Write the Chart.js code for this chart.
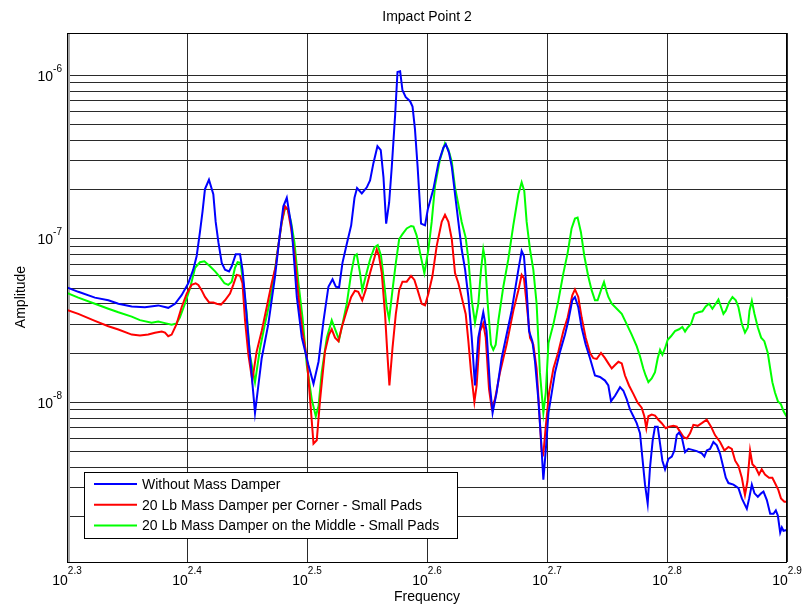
<!DOCTYPE html>
<html>
<head>
<meta charset="utf-8">
<script src="https://cdn.jsdelivr.net/npm/chart.js@4.4.0/dist/chart.umd.min.js"></script>
<style>
  html, body { margin: 0; padding: 0; background: #fff; }
  #wrap { width: 803px; height: 608px; }
</style>
</head>
<body>
<div id="wrap"><canvas id="c" width="803" height="608"></canvas></div>
<script>
// series names, as in the legend
const seriesNames = [
  "Without Mass Damper",
  "20 Lb Mass Damper per Corner - Small Pads",
  "20 Lb Mass Damper on the Middle - Small Pads"
];
const seriesColors = ["#0000ff", "#ff0000", "#00ff00"];

// axis ticks (exponents of 10)
const xTickExp = [2.3, 2.4, 2.5, 2.6, 2.7, 2.8, 2.9];
const yTickExp = [-8, -7, -6];
const yMin = 1.05e-9, yMax = 1.8e-6;

// Without Mass Damper (Hz, amplitude)
const freqBlue = [199.5,203.9,210.5,216.0,220.2,225.9,231.7,237.7,242.3,245.5,248.6,251.8,254.2,255.9,257.5,258.8,260.0,262.0,264.2,265.4,266.8,268.5,270.2,272.3,273.7,275.8,278.1,279.4,280.8,282.6,286.2,289.9,293.6,297.4,300.3,302.2,304.2,307.1,310.1,313.1,317.1,320.2,323.3,326.4,329.5,332.1,334.2,336.3,338.5,341.3,344.2,346.4,348.1,351.3,354.7,356.9,359.2,362.0,364.3,366.2,368.1,370.2,372.1,374.5,376.2,378.1,379.8,382.2,385.4,387.2,389.0,391.0,393.6,396.6,398.7,403.0,406.9,410.8,412.7,415.3,417.5,420.1,422.8,425.5,428.3,431.0,433.8,436.5,439.3,443.5,446.3,449.2,451.5,455.0,459.4,468.3,474.4,477.4,479.5,482.0,484.2,487.3,489.8,492.9,495.5,497.7,500.0,502.6,505.8,509.0,513.9,518.8,522.1,526.1,528.8,532.2,535.6,539.8,544.3,549.5,554.8,560.2,563.8,566.7,571.1,576.6,580.3,584.0,587.7,591.5,595.3,599.1,601.8,604.9,608.0,610.7,613.9,616.6,619.8,622.6,625.4,628.6,632.7,636.8,640.0,642.9,645.7,649.0,653.2,657.4,662.5,668.0,674.5,677.9,681.0,685.3,689.7,694.2,698.6,703.1,706.3,709.9,716.8,723.7,728.4,735.4,738.7,742.5,746.3,751.1,755.9,759.3,764.2,769.1,774.0,777.5,780.5,784.0,786.5,789.0,794.1];
const ampBlue = [5.01e-8,4.71e-8,4.34e-8,4.18e-8,3.98e-8,3.83e-8,3.79e-8,3.89e-8,3.76e-8,3.98e-8,4.49e-8,5.31e-8,6.43e-8,7.80e-8,1.09e-7,1.46e-7,2.00e-7,2.28e-7,1.86e-7,1.26e-7,9.44e-8,7.08e-8,6.43e-8,6.28e-8,6.75e-8,7.98e-8,7.98e-8,6.43e-8,4.38e-8,2.47e-8,8.57e-9,1.85e-8,2.99e-8,5.84e-8,1.09e-7,1.57e-7,1.77e-7,1.15e-7,4.38e-8,2.47e-8,1.68e-8,1.29e-8,1.76e-8,3.13e-8,5.06e-8,5.62e-8,5.06e-8,5.01e-8,7.08e-8,9.22e-8,1.20e-7,1.77e-7,2.03e-7,1.88e-7,2.05e-7,2.26e-7,2.88e-7,3.66e-7,3.46e-7,2.37e-7,1.23e-7,1.65e-7,2.74e-7,5.68e-7,1.04e-6,1.05e-6,8.04e-7,7.30e-7,6.89e-7,6.40e-7,4.67e-7,2.74e-7,1.23e-7,1.20e-7,1.50e-7,2.00e-7,2.88e-7,3.58e-7,3.76e-7,3.33e-7,2.74e-7,1.86e-7,1.26e-7,8.57e-8,6.43e-8,4.38e-8,2.47e-8,1.26e-8,2.47e-8,3.53e-8,2.71e-8,1.26e-8,8.57e-9,1.14e-8,1.85e-8,3.61e-8,6.43e-8,8.37e-8,7.80e-8,4.82e-8,2.71e-8,2.35e-8,1.76e-8,1.04e-8,5.83e-9,3.35e-9,5.05e-9,8.57e-9,1.14e-8,1.52e-8,2.03e-8,2.58e-8,3.13e-8,4.18e-8,4.38e-8,3.79e-8,2.85e-8,2.24e-8,1.85e-8,1.45e-8,1.42e-8,1.35e-8,1.26e-8,1.01e-8,1.09e-8,1.23e-8,1.17e-8,1.04e-8,8.99e-9,8.17e-9,7.41e-9,6.43e-9,4.58e-9,3.12e-9,2.39e-9,3.96e-9,5.83e-9,7.06e-9,7.06e-9,5.56e-9,4.37e-9,3.87e-9,4.48e-9,4.63e-9,5.05e-9,6.27e-9,6.49e-9,6.12e-9,4.92e-9,5.16e-9,5.09e-9,5.00e-9,4.85e-9,4.63e-9,5.05e-9,5.16e-9,5.69e-9,5.42e-9,4.81e-9,3.96e-9,3.44e-9,3.19e-9,3.12e-9,2.97e-9,2.57e-9,2.22e-9,2.57e-9,3.12e-9,2.76e-9,2.63e-9,2.76e-9,2.83e-9,2.51e-9,2.07e-9,2.07e-9,2.17e-9,2.02e-9,1.59e-9,1.71e-9,1.63e-9,1.65e-9];

// 20 Lb per corner
const freqRed = [199.5,203.9,210.5,216.0,220.2,225.9,229.5,233.2,236.2,239.3,240.8,242.3,243.9,246.2,248.6,251.1,253.4,255.4,256.7,258.3,260.0,262.0,264.2,265.9,268.1,270.2,272.8,274.5,276.3,278.1,279.4,280.8,282.6,284.7,287.1,289.9,292.7,295.5,297.8,299.3,301.3,303.2,304.8,306.7,308.7,311.1,313.5,316.1,318.1,320.2,322.2,324.3,327.3,329.9,331.6,333.7,335.9,338.0,341.3,344.2,346.7,348.9,351.6,353.9,356.9,359.9,361.5,363.1,365.0,367.3,369.0,370.4,372.6,375.0,377.4,379.8,382.9,386.1,388.6,391.0,394.1,396.6,399.2,402.2,405.6,409.5,412.1,414.8,417.5,420.1,422.8,426.1,428.8,431.0,433.2,436.0,437.9,440.8,443.5,445.6,448.4,450.7,453.6,458.0,463.8,469.8,474.4,477.4,479.5,482.0,485.1,488.2,491.3,493.5,496.0,497.7,500.0,503.2,507.4,512.3,517.2,521.5,526.1,528.8,532.2,535.6,539.8,544.3,547.8,551.3,555.9,560.2,563.8,567.5,571.1,574.8,578.5,582.1,586.6,591.5,596.4,601.0,604.1,606.4,608.8,612.7,616.6,620.6,624.6,629.4,633.5,638.8,642.9,646.9,651.1,655.3,659.5,663.7,669.3,674.5,681.0,686.6,691.8,698.6,704.4,709.9,714.5,719.1,723.7,728.4,732.8,736.3,740.0,743.3,748.1,752.8,756.7,761.5,767.4,772.3,776.2,781.2,785.2,790.3,794.1];
const ampRed = [3.65e-8,3.45e-8,3.13e-8,2.90e-8,2.77e-8,2.58e-8,2.55e-8,2.58e-8,2.65e-8,2.69e-8,2.65e-8,2.52e-8,2.58e-8,2.99e-8,3.79e-8,4.60e-8,5.19e-8,5.31e-8,5.19e-8,4.82e-8,4.38e-8,4.07e-8,4.05e-8,3.98e-8,3.93e-8,4.18e-8,4.60e-8,5.19e-8,5.98e-8,5.90e-8,5.31e-8,3.13e-8,1.94e-8,1.35e-8,2.03e-8,2.71e-8,3.79e-8,5.31e-8,6.75e-8,9.00e-8,1.26e-7,1.57e-7,1.50e-7,1.15e-7,8.18e-8,4.38e-8,2.71e-8,1.85e-8,1.04e-8,5.56e-9,5.83e-9,1.04e-8,2.03e-8,2.58e-8,2.78e-8,2.47e-8,2.35e-8,2.85e-8,3.61e-8,4.38e-8,4.78e-8,4.71e-8,4.18e-8,4.82e-8,6.13e-8,7.60e-8,8.57e-8,7.80e-8,6.13e-8,3.45e-8,1.94e-8,1.26e-8,2.13e-8,3.45e-8,4.82e-8,5.43e-8,5.43e-8,5.90e-8,5.57e-8,4.82e-8,3.98e-8,3.89e-8,4.60e-8,5.84e-8,9.00e-8,1.26e-7,1.39e-7,1.26e-7,9.90e-8,6.13e-8,5.31e-8,4.18e-8,3.45e-8,2.35e-8,1.52e-8,1.00e-8,1.26e-8,2.71e-8,3.01e-8,2.47e-8,1.20e-8,9.21e-9,1.04e-8,1.52e-8,2.24e-8,3.61e-8,4.82e-8,5.98e-8,5.70e-8,3.98e-8,2.47e-8,2.24e-8,1.60e-8,9.44e-9,5.05e-9,4.81e-9,7.06e-9,1.14e-8,1.60e-8,2.03e-8,2.71e-8,3.29e-8,4.49e-8,4.87e-8,4.38e-8,3.29e-8,2.47e-8,1.99e-8,1.85e-8,1.83e-8,1.99e-8,1.85e-8,1.72e-8,1.60e-8,1.68e-8,1.76e-8,1.72e-8,1.45e-8,1.26e-8,1.12e-8,9.90e-9,9.21e-9,8.17e-9,6.90e-9,8.17e-9,8.37e-9,8.25e-9,7.78e-9,7.41e-9,6.90e-9,7.06e-9,7.14e-9,7.06e-9,6.58e-9,6.12e-9,5.97e-9,6.43e-9,7.24e-9,7.14e-9,7.41e-9,7.78e-9,7.06e-9,6.27e-9,5.69e-9,5.05e-9,5.30e-9,5.16e-9,4.37e-9,4.06e-9,3.44e-9,2.70e-9,3.27e-9,5.05e-9,4.16e-9,3.96e-9,3.60e-9,3.87e-9,3.60e-9,3.44e-9,3.44e-9,3.19e-9,2.90e-9,2.57e-9,2.45e-9,2.45e-9];

// 20 Lb on the middle
const freqGreen = [199.5,203.9,210.5,216.0,220.2,225.9,229.5,234.7,237.7,240.8,243.9,246.2,247.8,250.2,252.6,255.1,257.5,259.7,262.5,265.1,267.6,269.9,271.9,273.7,275.4,276.8,278.3,279.9,281.7,283.4,286.2,289.0,291.7,294.6,297.4,299.3,301.3,303.2,304.8,306.7,308.7,311.1,313.5,316.1,319.1,321.6,323.3,325.3,328.5,331.6,334.2,336.3,338.5,341.3,344.2,346.4,347.9,350.1,351.6,353.9,356.9,359.9,362.2,364.5,366.2,368.5,370.2,372.6,375.0,377.4,379.8,382.9,386.1,387.9,390.3,392.8,396.1,399.2,401.7,404.3,408.1,412.1,414.8,417.5,420.1,422.8,425.5,428.8,431.0,433.8,436.5,439.3,441.6,443.5,445.0,447.3,450.1,452.1,454.2,456.5,460.9,465.3,469.8,474.4,477.4,479.8,482.0,485.1,488.2,491.3,494.4,497.7,500.0,502.6,507.4,512.3,517.2,521.5,525.4,528.8,531.5,534.9,538.4,542.5,546.0,549.5,552.3,555.9,559.1,562.0,563.8,567.5,573.0,578.5,584.0,589.6,595.3,599.1,602.9,605.6,608.8,612.7,616.6,619.8,622.6,625.4,628.6,631.8,635.8,640.7,645.7,649.8,653.2,656.6,660.7,665.0,670.1,675.3,679.6,684.0,688.4,692.8,696.4,700.0,703.1,706.3,710.8,715.4,720.0,723.7,728.4,732.8,736.8,739.2,742.5,746.3,751.1,755.9,760.5,765.6,769.1,772.3,776.2,780.5,785.2,789.0,794.1];
const ampGreen = [4.64e-8,4.34e-8,3.98e-8,3.71e-8,3.53e-8,3.32e-8,3.16e-8,3.05e-8,3.10e-8,3.03e-8,2.96e-8,3.02e-8,3.29e-8,3.98e-8,4.94e-8,6.59e-8,7.14e-8,7.24e-8,6.75e-8,6.28e-8,5.79e-8,5.31e-8,5.19e-8,5.43e-8,6.59e-8,7.14e-8,7.08e-8,5.31e-8,3.45e-8,1.94e-8,1.32e-8,2.13e-8,2.99e-8,4.18e-8,6.43e-8,9.00e-8,1.26e-7,1.53e-7,1.50e-7,1.26e-7,9.44e-8,5.31e-8,3.29e-8,1.68e-8,1.04e-8,8.17e-9,9.44e-9,1.52e-8,2.47e-8,3.16e-8,2.71e-8,2.40e-8,2.99e-8,3.98e-8,6.13e-8,7.80e-8,7.98e-8,6.13e-8,4.82e-8,5.84e-8,7.43e-8,8.79e-8,9.08e-8,7.80e-8,5.84e-8,3.79e-8,3.21e-8,4.82e-8,7.08e-8,9.90e-8,1.06e-7,1.15e-7,1.19e-7,1.18e-7,1.04e-7,8.18e-8,6.13e-8,8.57e-8,1.26e-7,2.10e-7,3.02e-7,3.81e-7,3.49e-7,2.94e-7,2.05e-7,1.61e-7,1.26e-7,1.01e-7,7.43e-8,4.18e-8,3.05e-8,3.98e-8,6.43e-8,8.57e-8,7.43e-8,3.98e-8,2.24e-8,2.08e-8,2.24e-8,3.13e-8,5.06e-8,7.43e-8,1.20e-7,1.86e-7,2.20e-7,1.95e-7,1.26e-7,8.57e-8,6.43e-8,3.98e-8,1.52e-8,8.57e-9,1.14e-8,2.29e-8,2.99e-8,4.18e-8,6.13e-8,8.18e-8,1.15e-7,1.32e-7,1.34e-7,1.09e-7,7.80e-8,5.84e-8,4.82e-8,4.18e-8,4.18e-8,4.82e-8,5.41e-8,4.71e-8,4.38e-8,3.98e-8,3.71e-8,3.45e-8,2.99e-8,2.58e-8,2.19e-8,1.90e-8,1.60e-8,1.45e-8,1.32e-8,1.39e-8,1.52e-8,1.85e-8,2.08e-8,1.94e-8,2.13e-8,2.40e-8,2.52e-8,2.71e-8,2.78e-8,2.87e-8,2.69e-8,2.85e-8,2.99e-8,3.45e-8,3.53e-8,3.58e-8,3.83e-8,3.98e-8,3.71e-8,3.98e-8,4.22e-8,3.79e-8,3.45e-8,3.61e-8,4.07e-8,4.38e-8,4.18e-8,3.79e-8,2.99e-8,2.65e-8,2.85e-8,3.61e-8,4.14e-8,3.45e-8,2.85e-8,2.47e-8,2.35e-8,1.99e-8,1.60e-8,1.32e-8,1.14e-8,1.01e-8,9.67e-9,8.79e-9,8.09e-9];

const FONT = '"Liberation Sans", Arial, sans-serif';

function pts(fs, as) {
  return fs.map((f, i) => ({ x: f, y: as[i] }));
}

// grid, box, labels and legend drawn the MATLAB way
const matlabFrame = {
  id: 'matlabFrame',
  beforeDatasetsDraw(chart) {
    const { ctx, chartArea: a, scales: { x, y } } = chart;
    ctx.save();
    ctx.strokeStyle = '#2a2a2a';
    ctx.lineWidth = 1;
    // horizontal grid: decades and 2..9 in between
    for (let e = -9; e <= -6; e++) {
      for (let k = 1; k <= 9; k++) {
        const v = k * Math.pow(10, e);
        if (v < yMin || v > yMax) continue;
        const py = Math.round(y.getPixelForValue(v)) + 0.5;
        ctx.beginPath();
        ctx.moveTo(a.left, py);
        ctx.lineTo(a.right, py);
        ctx.stroke();
      }
    }
    // vertical grid at the labelled ticks
    xTickExp.forEach(e => {
      const px = Math.round(x.getPixelForValue(Math.pow(10, e))) + 0.5;
      ctx.beginPath();
      ctx.moveTo(px, a.top);
      ctx.lineTo(px, a.bottom);
      ctx.stroke();
    });
    // crowded minor ticks at the left edge
    ctx.fillStyle = '#a8a8a8';
    ctx.fillRect(a.left + 1, a.top, 2, a.bottom - a.top);
    ctx.restore();
  },
  afterDatasetsDraw(chart) {
    const { ctx, chartArea: a, scales: { x, y } } = chart;
    ctx.save();
    // axes box
    ctx.strokeStyle = '#000';
    ctx.lineWidth = 1;
    ctx.strokeRect(a.left + 0.5, a.top + 0.5, a.right - a.left - 1, a.bottom - a.top);
    ctx.fillStyle = '#000';

    // x tick labels 10^e
    xTickExp.forEach(e => {
      const px = x.getPixelForValue(Math.pow(10, e));
      ctx.font = '14px ' + FONT;
      const base = '10', sup = e.toFixed(1);
      const wb = ctx.measureText(base).width;
      ctx.font = '10px ' + FONT;
      const ws = ctx.measureText(sup).width;
      const x0 = px - (wb + ws) / 2;
      ctx.textAlign = 'left';
      ctx.textBaseline = 'alphabetic';
      ctx.font = '14px ' + FONT;
      ctx.fillText(base, x0, 585);
      ctx.font = '10px ' + FONT;
      ctx.fillText(sup, x0 + wb, 574);
    });

    // y tick labels 10^e
    yTickExp.forEach(e => {
      const py = y.getPixelForValue(Math.pow(10, e));
      ctx.font = '10px ' + FONT;
      const sup = '-' + Math.abs(e);
      const ws = ctx.measureText(sup).width;
      ctx.textAlign = 'left';
      ctx.fillText(sup, 62 - ws, py - 3);
      ctx.font = '14px ' + FONT;
      ctx.textAlign = 'right';
      ctx.fillText('10', 62 - ws, py + 6);
    });

    // title and axis labels
    ctx.font = '14px ' + FONT;
    ctx.textAlign = 'center';
    ctx.fillText('Impact Point 2', (a.left + a.right) / 2, 21);
    ctx.fillText('Frequency', (a.left + a.right) / 2, 601);
    ctx.save();
    ctx.translate(25, 297);
    ctx.rotate(-Math.PI / 2);
    ctx.fillText('Amplitude', 0, 0);
    ctx.restore();

    // legend box inside the axes
    const lx = 84.5, ly = 472.5, lw = 373, lh = 66;
    ctx.fillStyle = '#fff';
    ctx.fillRect(lx, ly, lw, lh);
    ctx.strokeStyle = '#000';
    ctx.lineWidth = 1;
    ctx.strokeRect(lx, ly, lw, lh);
    ctx.font = '14px ' + FONT;
    ctx.textAlign = 'left';
    seriesNames.forEach((name, i) => {
      const yy = 484 + i * 20.7;
      ctx.strokeStyle = seriesColors[i];
      ctx.lineWidth = 2;
      ctx.beginPath();
      ctx.moveTo(94, yy);
      ctx.lineTo(137, yy);
      ctx.stroke();
      ctx.fillStyle = '#000';
      ctx.fillText(name, 142, yy + 5);
    });
    ctx.restore();
  }
};

new Chart(document.getElementById('c'), {
  type: 'line',
  data: {
    datasets: [
      { label: seriesNames[0], data: pts(freqBlue, ampBlue), borderColor: seriesColors[0] },
      { label: seriesNames[1], data: pts(freqRed, ampRed), borderColor: seriesColors[1] },
      { label: seriesNames[2], data: pts(freqGreen, ampGreen), borderColor: seriesColors[2] }
    ].map(d => Object.assign(d, { borderWidth: 2, pointRadius: 0, tension: 0, fill: false }))
  },
  options: {
    responsive: false,
    animation: false,
    layout: { padding: { left: 67, right: 16, top: 33, bottom: 46 } },
    plugins: { legend: { display: false }, tooltip: { enabled: false } },
    scales: {
      x: { type: 'logarithmic', display: false, min: Math.pow(10, 2.3), max: Math.pow(10, 2.9) },
      y: { type: 'logarithmic', display: false, min: yMin, max: yMax }
    }
  },
  plugins: [matlabFrame]
});
</script>
</body>
</html>
